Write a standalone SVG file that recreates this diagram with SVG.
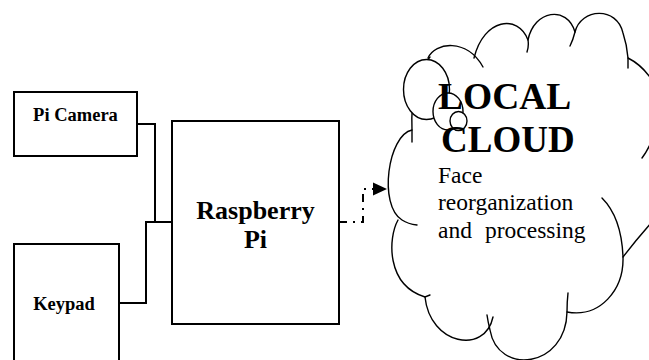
<svg xmlns="http://www.w3.org/2000/svg" width="649" height="360" viewBox="0 0 649 360">
<defs>
<style>
.box{fill:#fff;stroke:#000;stroke-width:2}
.wire{fill:none;stroke:#000;stroke-width:2}
.cl{fill:none;stroke:#000;stroke-width:1.4;stroke-linecap:round}
.bub{fill:#fff;stroke:#000;stroke-width:1.4}
.lb{font-family:"Liberation Serif","Times New Roman",serif;font-weight:bold;fill:#000}
.tx{font-family:"Liberation Serif","Times New Roman",serif;fill:#000}
</style>
</defs>
<rect width="649" height="360" fill="#fff"/>
<g id="connectors">
<path class="wire" d="M137,124 H155 V222"/>
<path class="wire" d="M119,303 H146 V222 H172"/>
<path class="wire" d="M339,222 H363 V189 H375" stroke-dasharray="8 6 2 6"/>
<polygon points="373,182.5 387,189 373,195.5" fill="#000"/>
</g>
<g id="pi-camera">
<rect class="box" x="14" y="92" width="123" height="64"/>
<text class="lb" x="75.5" y="120.5" font-size="18.5" text-anchor="middle">Pi Camera</text>
</g>
<g id="keypad">
<rect class="box" x="14" y="244" width="105" height="120"/>
<text class="lb" x="64" y="310" font-size="18.5" text-anchor="middle">Keypad</text>
</g>
<g id="raspberry-pi">
<rect class="box" x="172" y="121" width="167" height="203"/>
<text class="lb" x="255.5" y="219" font-size="26" text-anchor="middle">Raspberry</text>
<text class="lb" x="255.5" y="248" font-size="26" text-anchor="middle">Pi</text>
</g>
<g id="local-cloud">
<path class="cl" d="M412,142 L412,130 C411,105 414,75 430,57"/>
<path class="cl" d="M428,58 C435,42 467,38 483,67"/>
<path class="cl" d="M474,58 C484,18 518,14 528,40 Q529,46 527,52"/>
<path class="cl" d="M528,40 C534,10 567,5 575,32 Q573,40 570,46"/>
<path class="cl" d="M575,32 C581,8 617,6 623,33 Q627,45 628,58 L628,68"/>
<path class="cl" d="M628,58 C636,62 644,68 652,80"/>
<path class="cl" d="M652,140 Q648,150 642,158"/>
<path class="cl" d="M652,222 Q636,240 623,257"/>
<path class="cl" d="M602,198 C614,210 622,230 623,257 C624,290 600,318 567,312"/>
<path class="cl" d="M568,293 Q567,302 567,312 C566,368 498,376 490,330 Q488,322 487,315"/>
<path class="cl" d="M425,297 C430,345 485,355 493,317"/>
<path class="cl" d="M398,220 C388,238 386,285 425,297 L430,295"/>
<path class="cl" d="M412,130 C388,135 378,205 402,220 Q408,224 417,225"/>
<ellipse class="bub" cx="426.5" cy="89.5" rx="23" ry="30"/>
<ellipse class="bub" cx="448" cy="111.5" rx="15" ry="18.5"/>
<ellipse class="bub" cx="458.5" cy="121" rx="8.5" ry="9.5"/>
<text class="lb" x="438" y="109" font-size="37.5">LOCAL</text>
<text class="lb" x="441" y="152" font-size="37">CLOUD</text>
<text class="tx" x="438" y="183" font-size="23.5">Face</text>
<text class="tx" x="438" y="210" font-size="23.5">reorganization</text>
<text class="tx" y="238" font-size="23.5"><tspan x="438">and</tspan><tspan x="485">processing</tspan></text>
</g>
</svg>
